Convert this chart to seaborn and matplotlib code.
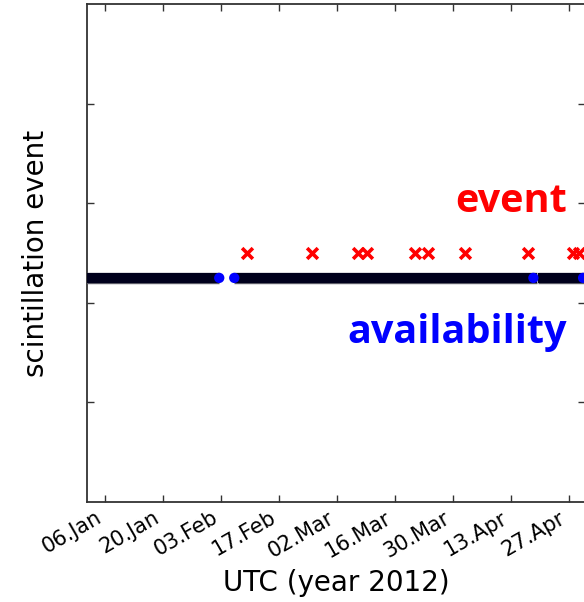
import matplotlib
matplotlib.use("Agg")
import matplotlib.pyplot as plt
import matplotlib.dates as mdates
import matplotlib.patheffects as pe
import numpy as np
import pandas as pd
import seaborn as sns

# Receiver availability: continuous tracking periods (start, end)
avail_start = ["2012-01-01 00:00", "2012-02-06 05:00", "2012-04-19 10:00"]
avail_end = ["2012-02-02 14:00", "2012-04-19 09:00", "2012-05-02 00:00"]
# Isolated availability samples at the edges of tracking gaps
avail_marks = ["2012-02-02 14:00", "2012-02-06 05:00", "2012-04-18 10:00", "2012-04-30 10:00"]
avail_level = 2.25

# Detected scintillation events
event_times = ["2012-02-09 05:00", "2012-02-25 00:00", "2012-03-07 03:00", "2012-03-09 05:00",
               "2012-03-20 22:00", "2012-03-23 22:00", "2012-04-01 22:00", "2012-04-17 03:00",
               "2012-04-28 00:00", "2012-04-29 10:00"]
event_level = 2.5

tick_dates = ["2012-01-06", "2012-01-20", "2012-02-03", "2012-02-17", "2012-03-02",
              "2012-03-16", "2012-03-30", "2012-04-13", "2012-04-27"]
x_range = ["2012-01-01 15:50", "2012-04-30 21:00"]

sns.set_theme(style="ticks")
plt.rcParams["font.family"] = ["DejaVu Sans"]
plt.rcParams["lines.solid_capstyle"] = "butt"
plt.rcParams["text.color"] = "black"
plt.rcParams["axes.labelcolor"] = "black"
plt.rcParams["xtick.color"] = "#333333"
plt.rcParams["xtick.labelcolor"] = "black"
plt.rcParams["ytick.color"] = "#333333"

seg = pd.DataFrame({
    "time": pd.to_datetime(avail_start + avail_end),
    "level": [avail_level] * (2 * len(avail_start)),
    "period": list(range(len(avail_start))) * 2,
})
marks = pd.DataFrame({"time": pd.to_datetime(avail_marks), "level": avail_level})
events = pd.DataFrame({"time": pd.to_datetime(event_times), "level": event_level})

fig = plt.figure(figsize=(5.84, 6.02), dpi=100)
ax = fig.add_axes([87 / 584, 100 / 602, 498 / 584, 498 / 602])

sns.lineplot(data=seg, x="time", y="level", units="period", estimator=None,
             color="#00001c", linewidth=7.2, ax=ax, zorder=3,
             path_effects=[pe.Stroke(linewidth=8.2, foreground="#5a5a66"), pe.Normal()])
sns.scatterplot(data=marks, x="time", y="level", color="#0000ff", s=55,
                edgecolor="none", ax=ax, zorder=4)
sns.scatterplot(data=events, x="time", y="level", color="#ff0000", marker="x",
                s=60, linewidth=2.6, ax=ax, zorder=4)

ax.set_xlim(pd.to_datetime(x_range))
ax.set_ylim(0, 5)
ax.set_yticks([1, 2, 3, 4])
ax.set_yticklabels([])
ax.set_xticks(pd.to_datetime(tick_dates))
ax.xaxis.set_major_formatter(mdates.DateFormatter("%d.%b"))
ax.tick_params(axis="both", direction="in", length=5, width=1,
               top=True, right=True, labelsize=15, pad=4)
plt.setp(ax.get_xticklabels(), rotation=30, ha="right", rotation_mode="default")
for s in ax.spines.values():
    s.set_color("#333333")
    s.set_linewidth(1.3)

ax.set_xlabel("UTC (year 2012)", fontsize=20, labelpad=6)
ax.set_ylabel("scintillation event", fontsize=20, labelpad=23)

ax.text(0.964, 0.583, "event", transform=ax.transAxes, ha="right", va="baseline",
        color="#ff0000", fontsize=28.5, fontweight="bold", family=["Open Sans", "DejaVu Sans"])
ax.text(0.964, 0.319, "availability", transform=ax.transAxes, ha="right", va="baseline",
        color="#0000ff", fontsize=28.5, fontweight="bold", family=["Open Sans", "DejaVu Sans"])

fig.savefig("out.png", dpi=100)
